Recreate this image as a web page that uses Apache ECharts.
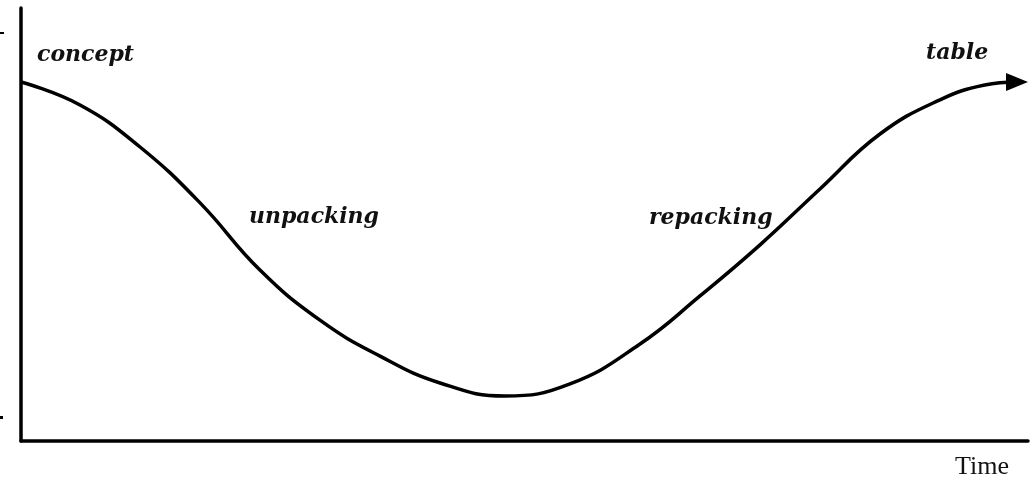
<!DOCTYPE html>
<html>
<head>
<meta charset="utf-8">
<script src="https://cdn.jsdelivr.net/npm/echarts@6/dist/echarts.min.js"></script>
<style>
html,body{margin:0;padding:0;background:#fff;}
#chart{width:1032px;height:481px;}
</style>
</head>
<body>
<div id="chart"></div>
<script>
// Time (0-100) and level (0-100)
const timeValues = [0, 5.86, 11.82, 17.78, 23.73, 29.69, 35.65, 41.61, 48.06, 54.52, 61.47, 67.43, 73.39, 79.34, 85.30, 91.26, 95.7, 98.91];
const levelValues = [82.9, 77.6, 67.9, 55.0, 39.5, 27.9, 19.6, 13.4, 10.4, 13.2, 22.4, 33.5, 45.3, 58.2, 70.9, 78.8, 82.2, 82.9];
const stageLabels = ['concept', 'unpacking', 'repacking', 'table'];
const xAxisTitle = 'Time';

const chart = echarts.init(document.getElementById('chart'));
const seriesData = timeValues.map((t, i) => {
  if (i === timeValues.length - 1) {
    return { value: [t, levelValues[i]], symbol: 'triangle', symbolSize: [18, 22], symbolRotate: -90, itemStyle: { color: '#000' } };
  }
  return { value: [t, levelValues[i]], symbol: 'none' };
});

const italic = { fontFamily: 'DejaVu Serif', fontStyle: 'italic', fontWeight: 'bold', fontSize: 22, fill: '#111' };
chart.setOption({
  animation: false,
  backgroundColor: '#fff',
  grid: { left: 21, right: 4, top: 8, bottom: 40 },
  xAxis: {
    type: 'value', min: 0, max: 100,
    axisLine: { show: true, lineStyle: { color: '#000', width: 3.5 } },
    axisTick: { show: false }, axisLabel: { show: false }, splitLine: { show: false }
  },
  yAxis: {
    type: 'value', min: 0, max: 100,
    axisLine: { show: true, lineStyle: { color: '#000', width: 3.5 } },
    axisTick: { show: false }, axisLabel: { show: false }, splitLine: { show: false }
  },
  series: [{
    type: 'line',
    smooth: 0.45,
    showSymbol: true,
    symbol: 'none',
    data: seriesData,
    lineStyle: { color: '#000', width: 3.5 },
    itemStyle: { color: '#000' }
  }],
  graphic: [
    { type: 'text', left: 37, top: 44, style: Object.assign({ text: stageLabels[0] }, italic) },
    { type: 'text', left: 249, top: 206, style: Object.assign({ text: stageLabels[1] }, italic) },
    { type: 'text', left: 649, top: 207, style: Object.assign({ text: stageLabels[2] }, italic) },
    { type: 'text', left: 926, top: 42, style: Object.assign({ text: stageLabels[3] }, italic) },
    { type: 'text', left: 955, top: 454, style: { text: xAxisTitle, fontFamily: 'Liberation Serif', fontSize: 26, fill: '#111' } },
    { type: 'rect', left: 0, top: 32, shape: { width: 4, height: 2 }, style: { fill: '#000' } },
    { type: 'rect', left: 0, top: 416, shape: { width: 3, height: 3 }, style: { fill: '#000' } }
  ]
});
</script>
</body>
</html>
